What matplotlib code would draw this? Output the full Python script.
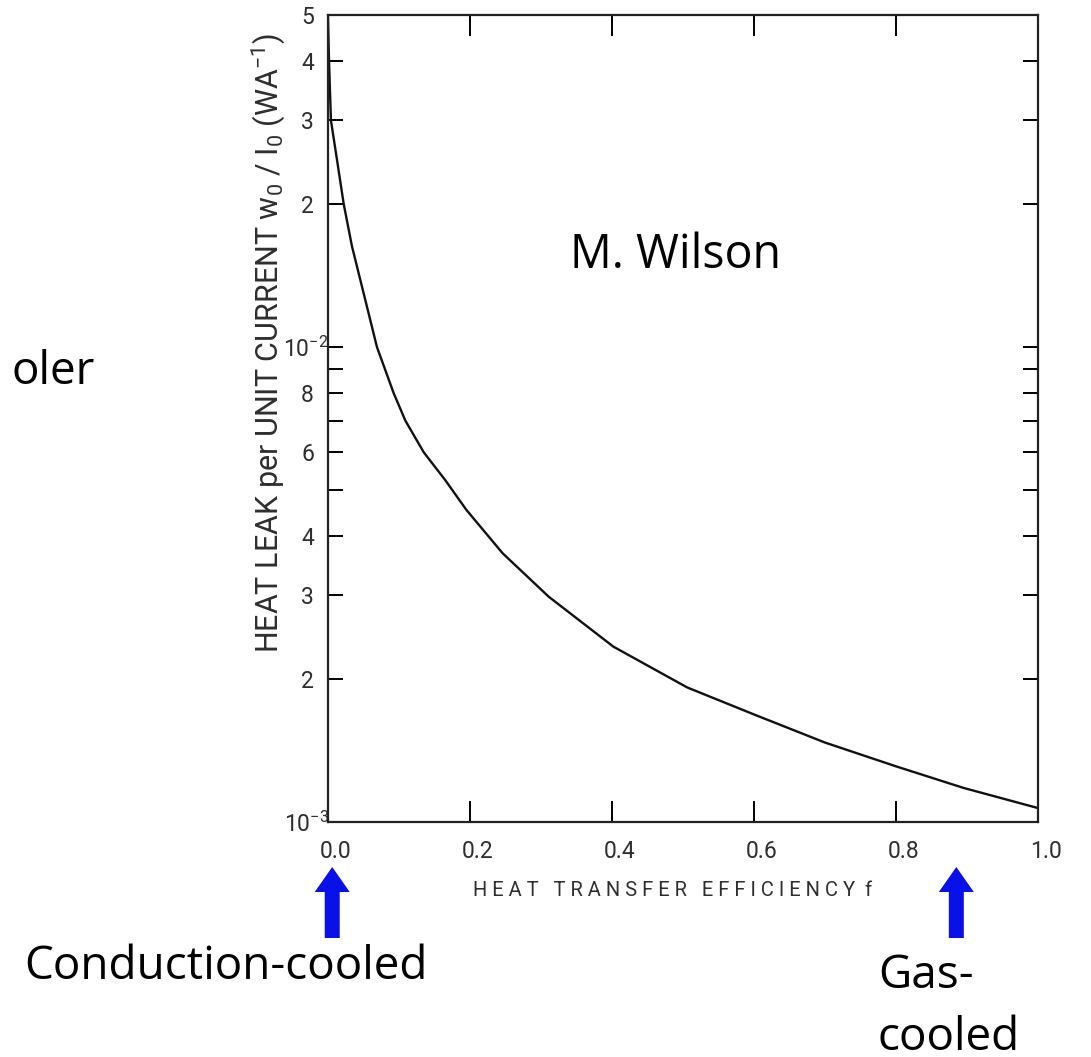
import matplotlib
matplotlib.use("Agg")
import matplotlib.pyplot as plt
import matplotlib.transforms as mtransforms
from matplotlib.ticker import FixedLocator, FixedFormatter, NullFormatter

# datos (eficiencia f, fuga de calor w0/I0 en W/A)
f_vals = [0.0, 0.0015, 0.0042, 0.0127, 0.0222, 0.0338, 0.0526, 0.069, 0.0925, 0.109, 0.135,
          0.165, 0.195, 0.246, 0.311, 0.402, 0.506, 0.602, 0.700, 0.80, 0.895, 1.0]
w_vals = [5.0e-2, 4.0e-2, 3.0e-2, 2.48e-2, 2.0e-2, 1.63e-2, 1.256e-2, 1.0e-2, 8.0e-3, 7.0e-3, 6.0e-3,
          5.25e-3, 4.54e-3, 3.68e-3, 2.98e-3, 2.34e-3, 1.92e-3, 1.68e-3, 1.47e-3, 1.31e-3, 1.18e-3, 1.07e-3]

x_ticks = [0.0, 0.2, 0.4, 0.6, 0.8, 1.0]
x_ticklabels = ["0.0", "0.2", "0.4", "0.6", "0.8", "1.0"]
y_ticks = [1e-3, 2e-3, 3e-3, 4e-3, 6e-3, 8e-3, 1e-2, 2e-2, 3e-2, 4e-2, 5e-2]
y_ticklabels = [r"10$^{-3}$", "2", "3", "4", "6", "8", r"10$^{-2}$", "2", "3", "4", "5"]
y_minor = [5e-3, 7e-3, 9e-3]

flecha_x = [0.006, 0.885]  # posiciones de las flechas azules

fuente_eje = ["Roboto", "DejaVu Sans"]
fuente_txt = ["Open Sans", "DejaVu Sans"]
gris = "#2e2e2e"

plt.rcParams["font.family"] = fuente_eje
plt.rcParams["mathtext.default"] = "regular"

fig = plt.figure(figsize=(10.91, 10.57), dpi=100)
ax = fig.add_axes([0.3006, 0.2223, 0.6508, 0.7635])

ax.semilogy(f_vals, w_vals, color="#111111", lw=1.7)
ax.set_xlim(0, 1)
ax.set_ylim(1e-3, 5e-2)

for s in ax.spines.values():
    s.set_linewidth(1.6)
    s.set_color("#222222")

ax.xaxis.set_major_locator(FixedLocator(x_ticks))
ax.xaxis.set_major_formatter(FixedFormatter(x_ticklabels))
ax.yaxis.set_major_locator(FixedLocator(y_ticks))
ax.yaxis.set_major_formatter(FixedFormatter(y_ticklabels))
ax.yaxis.set_minor_locator(FixedLocator(y_minor))
ax.yaxis.set_minor_formatter(NullFormatter())

ax.tick_params(axis="x", which="major", direction="in", top=True, bottom=True,
               length=15, width=1.4, pad=13, labelsize=16.5, labelcolor=gris)
ax.tick_params(axis="y", which="both", direction="in", left=True, right=True,
               length=11, width=1.4, pad=10, labelsize=16.5, labelcolor=gris)

# las etiquetas del eje x estan corridas un poco a la derecha
desplazo = mtransforms.ScaledTranslation(0.08, 0, fig.dpi_scale_trans)
for lab in ax.get_xticklabels():
    lab.set_transform(lab.get_transform() + desplazo)
# las potencias de diez quedan pegadas al eje
desplazo_y = mtransforms.ScaledTranslation(0.15, 0, fig.dpi_scale_trans)
for lab in ax.get_yticklabels():
    if "10" in lab.get_text():
        lab.set_transform(lab.get_transform() + desplazo_y)

fig.text(0.6165, 1 - 891 / 1057, "H E A T   T R A N S F E R   E F F I C I E N C Y  f",
         ha="center", va="center", fontsize=14.5, color=gris)
fig.text(268 / 1091, 1 - 343 / 1057,
         r"HEAT LEAK per UNIT CURRENT w$_0$ / I$_0$ (WA$^{-1}$)",
         rotation=90, ha="center", va="center", fontsize=22, color=gris)

# textos agregados
fig.text(676 / 1091, 1 - 255 / 1057, "M. Wilson", ha="center", va="center",
         fontsize=33.5, family=fuente_txt, color="black")
fig.text(95 / 1091, 1 - 372 / 1057, "oler", ha="right", va="center",
         fontsize=33, family=fuente_txt, color="black")
fig.text(226 / 1091, 1 - 979 / 1057, "Conduction-cooled", ha="center", va="baseline",
         fontsize=33, family=fuente_txt, color="black")
fig.text(878 / 1091, 1 - 988 / 1057, "Gas-", ha="left", va="baseline",
         fontsize=33, family=fuente_txt, color="black")
fig.text(878 / 1091, 1 - 1050 / 1057, "cooled", ha="left", va="baseline",
         fontsize=33, family=fuente_txt, color="black")

# flechas azules
for fx in flecha_x:
    ax.annotate("", xy=(fx, 1057 - 867), xytext=(fx, 1057 - 938),
                xycoords=("data", "figure pixels"), textcoords=("data", "figure pixels"),
                annotation_clip=False,
                arrowprops=dict(arrowstyle="simple,head_width=1.4,head_length=1.0,tail_width=0.6",
                                mutation_scale=18, color="#0a10e8", shrinkA=0, shrinkB=0, lw=0))

fig.savefig("out.png", dpi=100)
